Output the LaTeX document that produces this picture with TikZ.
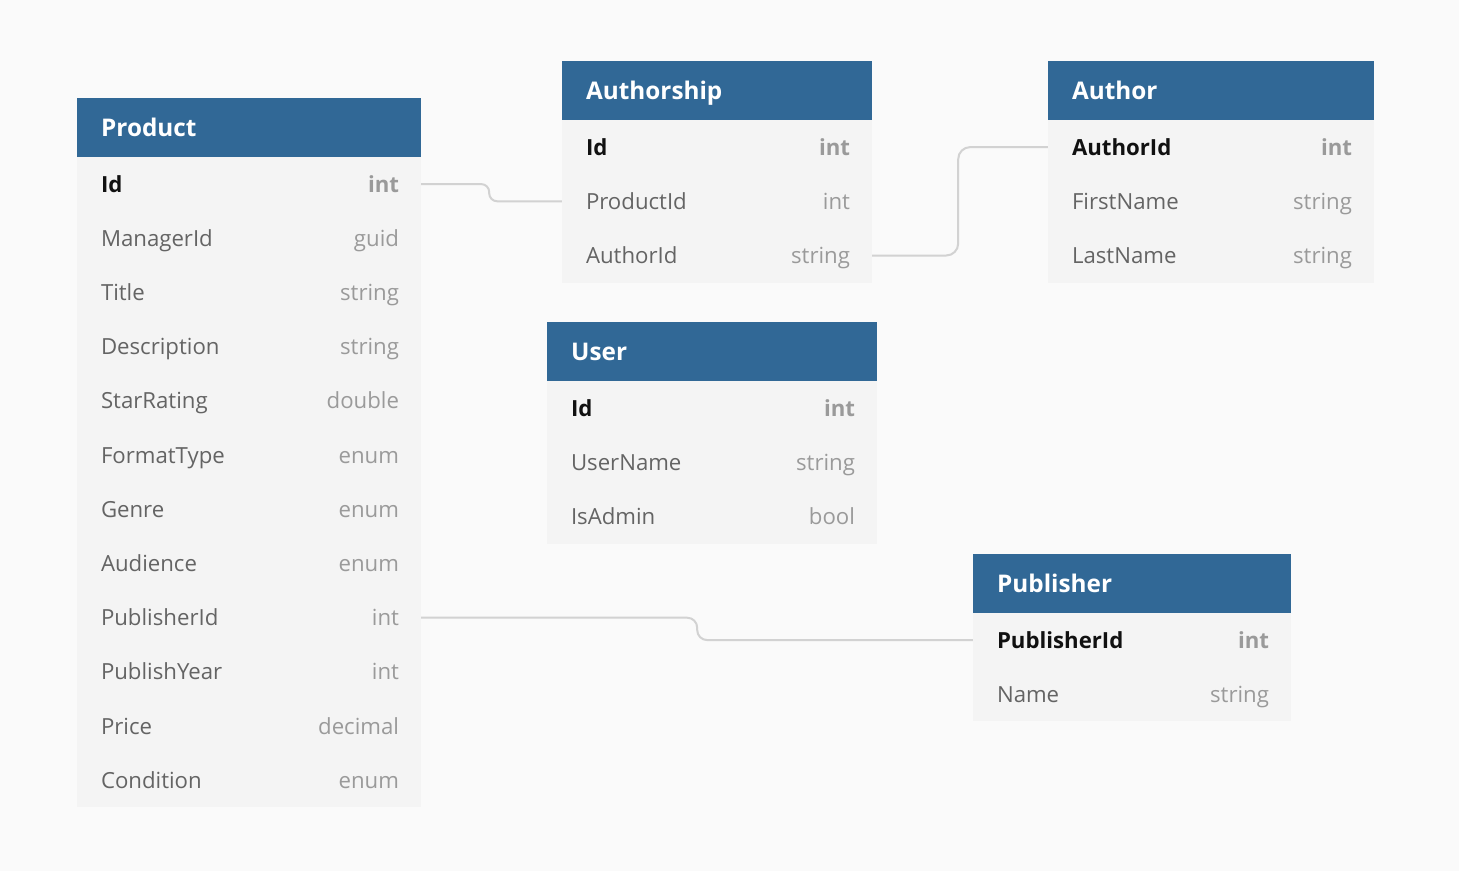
\documentclass[tikz,border=0pt]{standalone}
\usepackage{fontspec}
\setmainfont{Open Sans}
\definecolor{bg}{HTML}{FAFAFA}
\definecolor{body}{HTML}{F4F4F4}
\definecolor{hdrblue}{HTML}{316896}
\definecolor{fieldc}{HTML}{646464}
\definecolor{typec}{HTML}{9A9A9A}
\definecolor{keyc}{HTML}{111111}
\definecolor{linkc}{HTML}{D2D2D2}
\tikzset{
  hdr/.style={draw=none, fill=hdrblue, minimum height=59pt, anchor=north west, inner sep=0pt},
  ttl/.style={anchor=base west, inner sep=0pt, text=white, font=\fontsize{24.3}{28}\selectfont\bfseries},
  rowbox/.style={draw=none, fill=body, minimum height=54.2pt, inner sep=0pt},
  fn/.style={anchor=base west, inner sep=0pt, text=fieldc, font=\fontsize{22.2}{26}\selectfont},
  fk/.style={anchor=base west, inner sep=0pt, text=keyc, font=\fontsize{22.2}{26}\selectfont\bfseries},
  tn/.style={anchor=base east, inner sep=0pt, text=typec, font=\fontsize{22.2}{26}\selectfont},
  tk/.style={anchor=base east, inner sep=0pt, text=typec, font=\fontsize{22.2}{26}\selectfont\bfseries},
  link/.style={draw=linkc, line width=2pt},
}
\newcommand\erTable[6]{%
  \node[hdr, minimum width=#4pt] (#1-h) at (#2,#3) {};
  \node[ttl] (#1-title) at ([xshift=24pt,yshift=-8.5pt]#1-h.west) {#5};
  \foreach \f/\t/\s [count=\i] in {#6} {
    \node[rowbox, minimum width=#4pt] (#1-\i) at ({#2+#4/2},{#3+59+(\i-0.5)*54.2}) {};
    \node[f\s] (#1-\i-f) at ([xshift=24pt,yshift=-8pt]#1-\i.west) {\f};
    \node[t\s] (#1-\i-t) at ([xshift=-22pt,yshift=-8pt]#1-\i.east) {\t};
  }
}
\begin{document}
\begin{tikzpicture}[x=1pt,y=-1pt]
\fill[bg] (0,0) rectangle (1459,871);
\useasboundingbox (0,0) rectangle (1459,871);

\erTable{p}{77}{98}{344}{Product}{Id/int/k, ManagerId/guid/n, Title/string/n, Description/string/n, StarRating/double/n, FormatType/enum/n, Genre/enum/n, Audience/enum/n, PublisherId/int/n, PublishYear/int/n, Price/decimal/n, Condition/enum/n}
\erTable{as}{562}{61}{310}{Authorship}{Id/int/k, ProductId/int/n, AuthorId/string/n}
\erTable{au}{1048}{61}{326}{Author}{AuthorId/int/k, FirstName/string/n, LastName/string/n}
\erTable{u}{547}{322}{330}{User}{Id/int/k, UserName/string/n, IsAdmin/bool/n}
\erTable{pub}{973}{554}{318}{Publisher}{PublisherId/int/k, Name/string/n}

\draw[link, rounded corners=8pt] (p-1.east) -- ++(68,0) |- (as-2.west);
\draw[link, rounded corners=12pt] (as-3.east) -- ++(86,0) |- (au-1.west);
\draw[link, rounded corners=10pt] (p-9.east) -- ++(276,0) |- (pub-1.west);
\end{tikzpicture}
\end{document}
